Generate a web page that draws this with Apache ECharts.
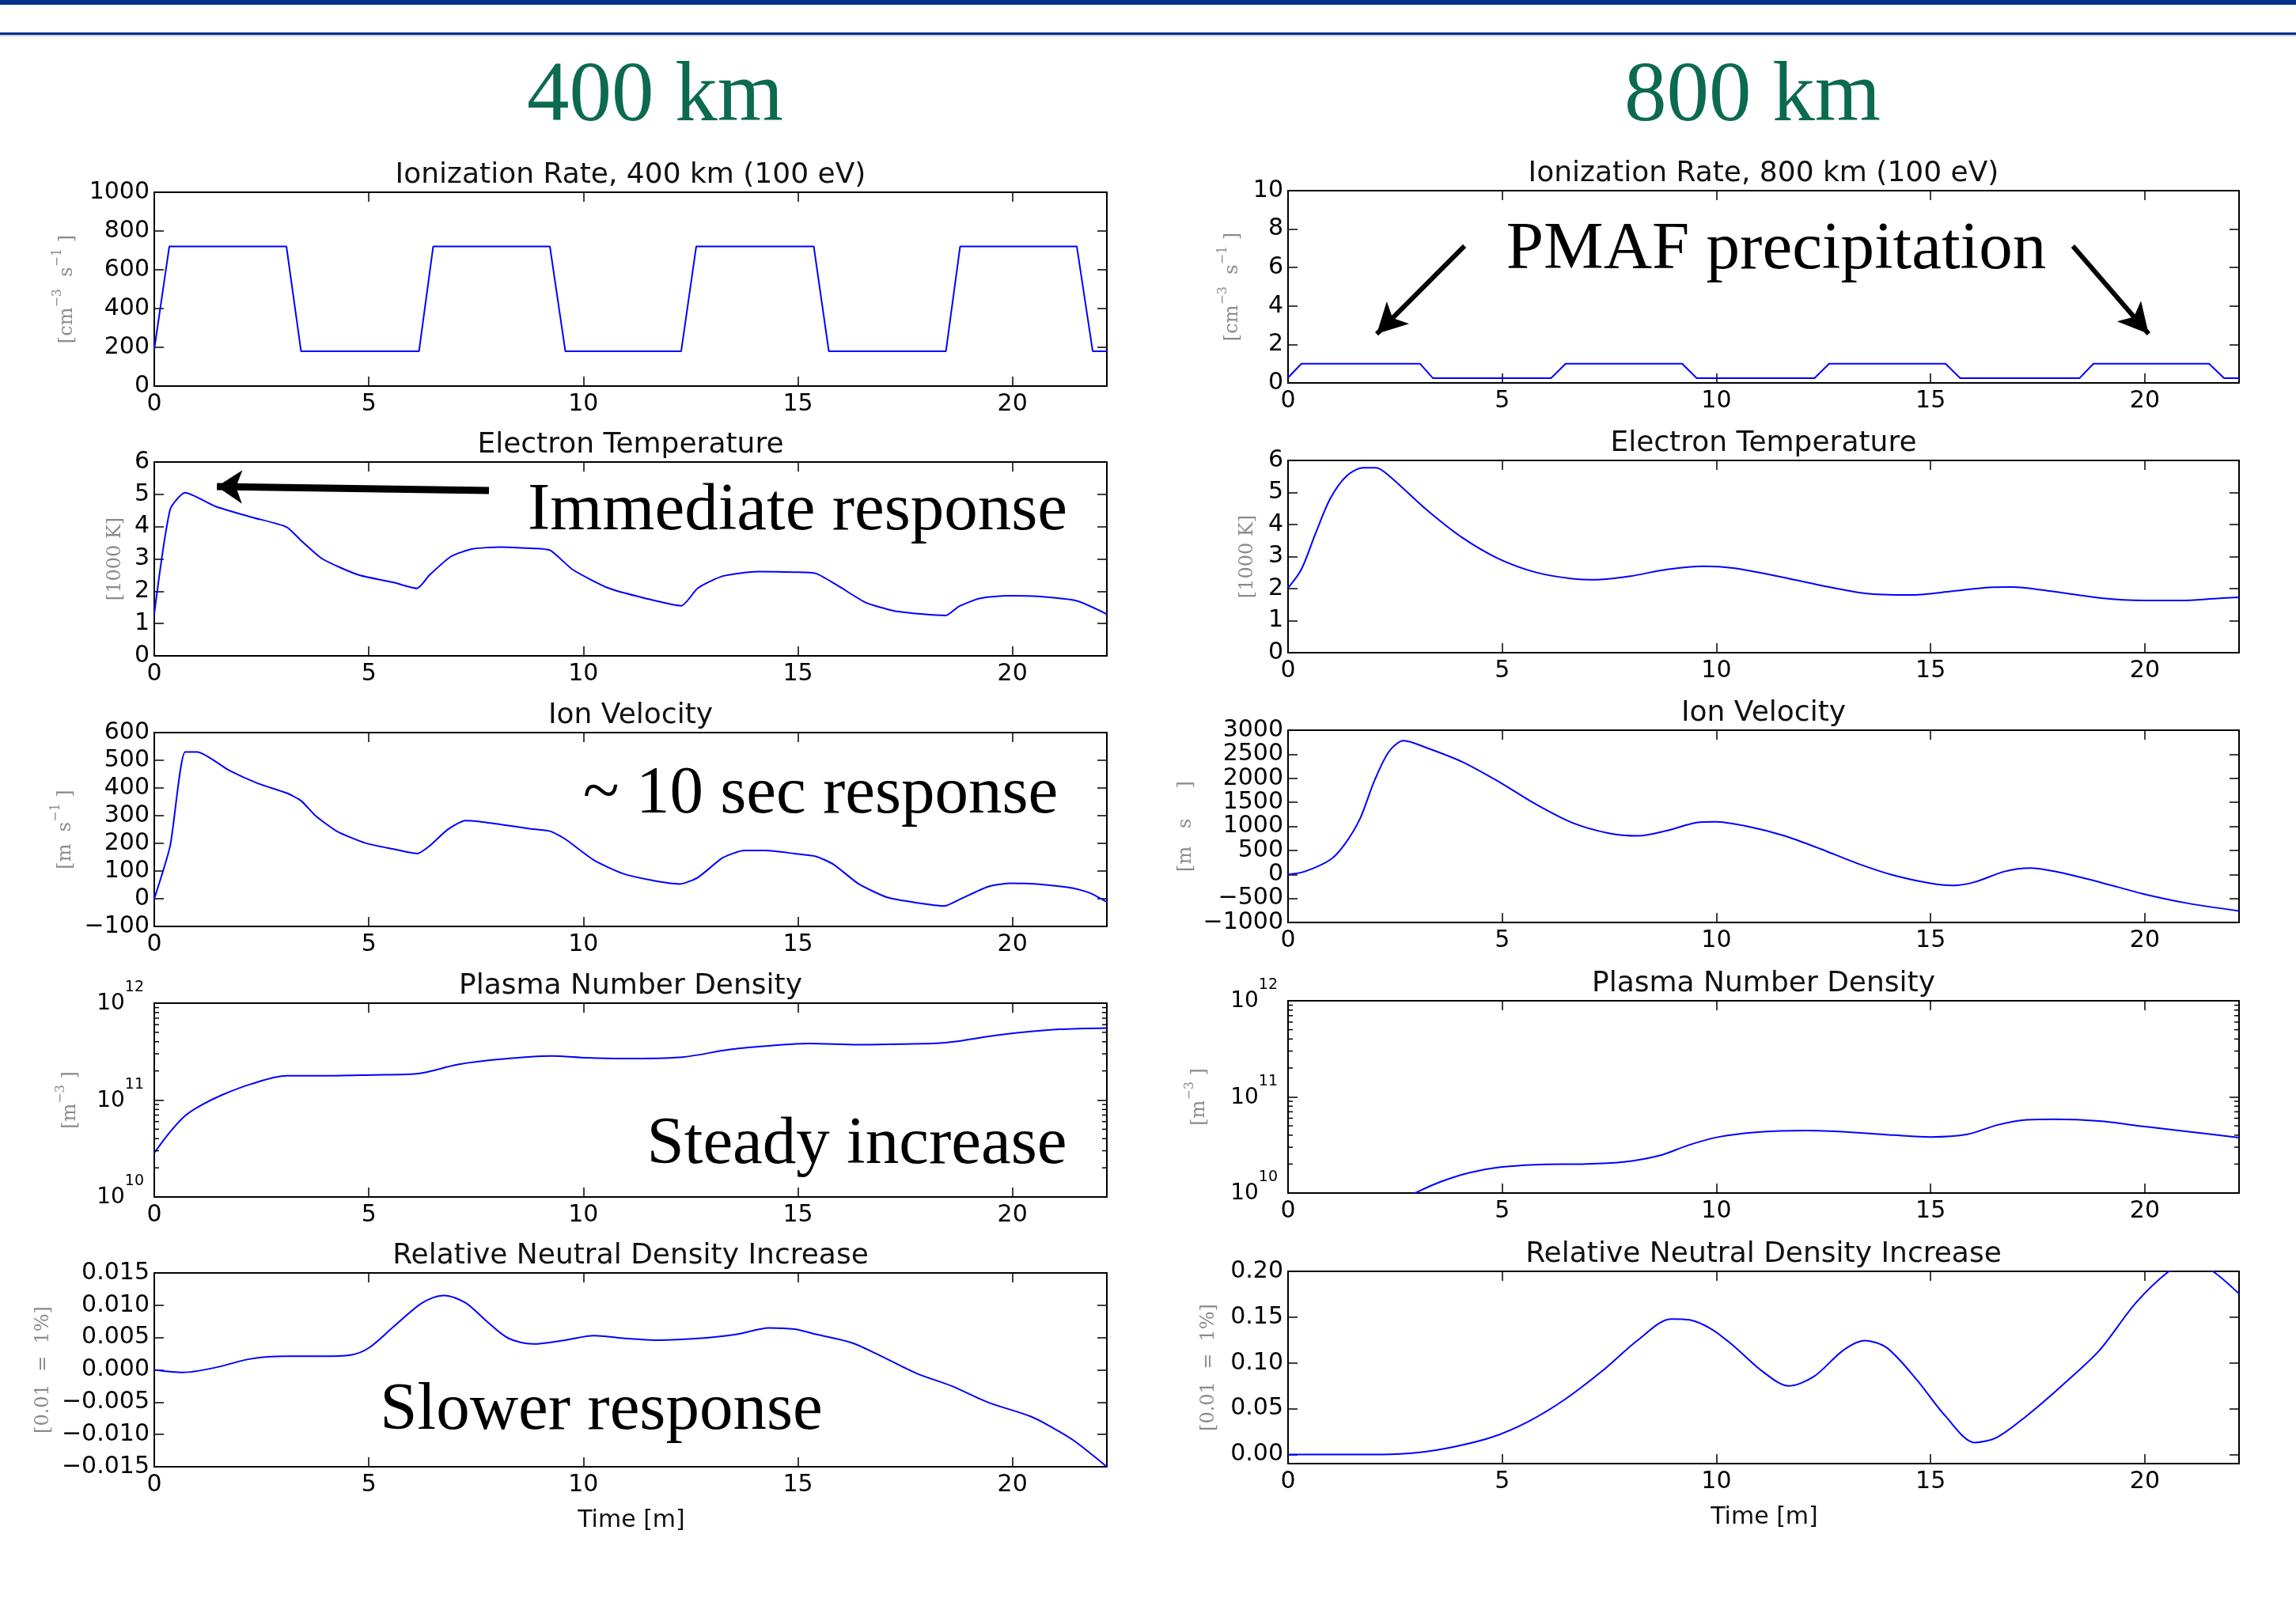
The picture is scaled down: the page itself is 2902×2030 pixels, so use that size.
<!DOCTYPE html>
<html><head><meta charset="utf-8">
<script src="https://cdn.jsdelivr.net/npm/echarts@6.0.0/dist/echarts.min.js"></script>
<style>html,body{margin:0;padding:0;background:#fff;}#chart{width:2902px;height:2030px;}</style>
</head><body><div id="chart"></div>
<script>
// ---------------- DATA (time in minutes) ----------------
const xTicks = [0, 5, 10, 15, 20];
const timeMax = 22.2;

const ion400 = [[0,190],[0.35,720],[3.08,720],[3.42,180],[6.17,180],[6.5,720],[9.22,720],[9.58,180],[12.28,180],[12.63,720],[15.37,720],[15.72,180],[18.45,180],[18.78,720],[21.5,720],[21.87,180],[22.2,180]];
const ion800 = [[0,0.27],[0.31,1.0],[3.08,1.0],[3.38,0.25],[6.14,0.25],[6.48,1.0],[9.2,1.0],[9.54,0.25],[12.29,0.25],[12.63,1.0],[15.35,1.0],[15.69,0.25],[18.48,0.25],[18.8,1.0],[21.5,1.0],[21.85,0.25],[22.2,0.25]];

const te400 = [[0,1.3],[0.37,4.53],[0.72,5.05],[1.42,4.63],[2.25,4.30],[3.08,3.99],[3.42,3.57],[3.92,3.0],[4.75,2.51],[5.58,2.27],[6.12,2.09],[6.42,2.51],[6.92,3.08],[7.42,3.31],[8.08,3.37],[8.75,3.33],[9.22,3.27],[9.75,2.67],[10.58,2.10],[11.42,1.79],[12.28,1.55],[12.67,2.10],[13.25,2.47],[14.08,2.61],[14.92,2.59],[15.42,2.55],[15.92,2.18],[16.58,1.65],[17.25,1.39],[17.92,1.29],[18.45,1.25],[18.75,1.53],[19.25,1.78],[19.92,1.86],[20.58,1.84],[21.5,1.70],[22.2,1.29]];
const te800 = [[0,2.02],[0.31,2.6],[0.65,3.75],[0.99,4.82],[1.37,5.52],[1.76,5.77],[2.05,5.77],[2.36,5.52],[3.21,4.49],[4.07,3.59],[4.92,2.93],[5.78,2.51],[6.63,2.31],[7.23,2.28],[8.0,2.39],[8.85,2.60],[9.71,2.70],[10.39,2.64],[11.42,2.39],[12.44,2.10],[13.47,1.85],[14.5,1.80],[15.52,1.92],[16.38,2.04],[16.89,2.05],[17.91,1.90],[18.94,1.71],[19.97,1.63],[20.82,1.63],[21.68,1.69],[22.2,1.73]];

const vi400 = [[0,0],[0.37,191],[0.72,530],[1.0,530],[1.75,463],[2.42,416],[3.08,382],[3.42,354],[3.75,301],[4.25,244],[4.92,201],[5.58,179],[6.13,163],[6.42,191],[6.83,249],[7.25,282],[7.5,280],[8.08,268],[8.75,253],[9.22,244],[9.58,215],[10.25,139],[10.92,91],[11.58,67],[12.25,53],[12.67,77],[13.25,148],[13.75,174],[14.25,174],[14.92,163],[15.42,153],[15.83,124],[16.42,53],[17.08,5],[17.75,-14],[18.42,-26],[18.75,-4],[19.42,43],[19.92,56],[20.58,53],[21.42,38],[21.83,19],[22.2,-12]];
const vi800 = [[0,0],[0.39,60],[0.99,308],[1.33,637],[1.68,1159],[2.02,1956],[2.36,2560],[2.70,2780],[3.21,2643],[4.07,2341],[4.92,1929],[5.78,1462],[6.63,1077],[7.49,857],[8.17,802],[8.85,912],[9.54,1077],[9.97,1093],[10.74,995],[11.59,802],[12.44,527],[13.3,225],[14.15,-22],[15.0,-187],[15.52,-231],[16.03,-159],[16.72,60],[17.32,132],[17.91,60],[18.94,-159],[19.97,-407],[20.99,-599],[22.2,-760]];

const ne400 = [[0,2.85e10],[0.37,4.7e10],[0.72,6.9e10],[1.08,8.8e10],[1.58,1.13e11],[2.25,1.46e11],[3.08,1.78e11],[3.92,1.78e11],[5.08,1.82e11],[6.12,1.87e11],[7.08,2.33e11],[8.08,2.64e11],[9.25,2.85e11],[10.08,2.73e11],[10.92,2.68e11],[12.25,2.76e11],[13.42,3.33e11],[14.42,3.66e11],[15.25,3.83e11],[16.42,3.73e11],[17.42,3.78e11],[18.42,3.9e11],[19.75,4.74e11],[21.08,5.37e11],[22.2,5.54e11]];
const ne800 = [[2.4,7.6e9],[2.96,1.0e10],[3.56,1.31e10],[4.24,1.63e10],[4.92,1.85e10],[5.78,1.97e10],[6.97,2.01e10],[7.83,2.10e10],[8.68,2.46e10],[9.37,3.17e10],[10.05,3.83e10],[10.91,4.29e10],[12.1,4.46e10],[13.13,4.29e10],[14.15,4.0e10],[15.0,3.83e10],[15.86,4.08e10],[16.55,5.09e10],[17.23,5.78e10],[17.91,5.85e10],[18.94,5.6e10],[19.97,4.93e10],[20.99,4.37e10],[22.2,3.76e10]];

const dn400 = [[0,0],[0.67,-0.0004],[1.42,0.00035],[2.25,0.0017],[3.08,0.0021],[3.92,0.0021],[4.58,0.0023],[5.0,0.0034],[5.58,0.0067],[6.25,0.0104],[6.75,0.0115],[7.25,0.0104],[7.75,0.0075],[8.25,0.0049],[8.83,0.0040],[9.58,0.0046],[10.25,0.0053],[10.92,0.0049],[11.75,0.0046],[12.75,0.0049],[13.58,0.0055],[14.33,0.0065],[14.92,0.0063],[15.42,0.0055],[16.25,0.0042],[16.92,0.0022],[17.75,-0.0005],[18.58,-0.0025],[19.42,-0.0050],[20.42,-0.0072],[20.92,-0.0089],[21.42,-0.0109],[22.2,-0.0150]];
const dn800 = [[0,0],[2.19,0],[3.04,0.002],[3.9,0.0086],[4.75,0.0187],[5.61,0.036],[6.46,0.060],[7.32,0.0906],[8.17,0.125],[8.94,0.148],[9.37,0.147],[9.88,0.137],[10.39,0.119],[11.08,0.0906],[11.68,0.0748],[12.27,0.0849],[12.96,0.1137],[13.47,0.1243],[13.98,0.1165],[14.67,0.082],[15.35,0.0417],[16.03,0.013],[16.55,0.0187],[17.23,0.0417],[18.09,0.0763],[18.94,0.1137],[19.79,0.1655],[20.56,0.20],[21.05,0.212],[21.59,0.20],[22.2,0.1755]];

// minor tick positions of the log axes
const logMinorTicks = [2e10,3e10,4e10,5e10,6e10,7e10,8e10,9e10,2e11,3e11,4e11,5e11,6e11,7e11,8e11,9e11];

// annotation arrows (data coordinates): [start, tip]
const arrowTemp400 = [[7.80,5.12],[1.46,5.24]];
const arrowIon800L = [[4.12,7.12],[2.07,2.55]];
const arrowIon800R = [[18.32,7.12],[20.09,2.55]];

// ---------------- LAYOUT ----------------
const COLL = {left:195, width:1204, height:245, tops:[243,584,926,1268,1609], cx:797};
const COLR = {left:1628, width:1202, height:243, tops:[241,582,923,1265,1607], cx:2229};
const BLUE = '#0000ff';
const UNIT_COLOR = '#8a8a8a';

function minusFmt(s){ return s.replace('-', '\u2212'); }
const fmtInt = v => minusFmt(String(Math.round(v)));
const fmt3 = v => Math.abs(v) < 1e-9 ? '0.000' : minusFmt(v.toFixed(3));
const fmt2 = v => Math.abs(v) < 1e-9 ? '0.00' : minusFmt(v.toFixed(2));
const fmtLog = v => '{b|10}{s|' + Math.round(Math.log10(v)) + '}';

const panels = [
  {col:COLL,row:0,title:'Ionization Rate, 400 km (100 eV)',data:ion400,yMin:0,yMax:1000,yInt:200,fmt:fmtInt,unit:'{n|[cm}{s|\u22123}{n|  s}{s|\u22121}{n| ]}',unitX:81,smooth:false},
  {col:COLR,row:0,title:'Ionization Rate, 800 km (100 eV)',data:ion800,yMin:0,yMax:10,yInt:2,fmt:fmtInt,unit:'{n|[cm}{s|\u22123}{n|  s}{s|\u22121}{n| ]}',unitX:1554,smooth:false,
    arrows:[arrowIon800L, arrowIon800R], arrowW:6, arrowSize:[30,38]},
  {col:COLL,row:1,title:'Electron Temperature',data:te400,yMin:0,yMax:6,yInt:1,fmt:fmtInt,unit:'{n|[1000 K]}',unitX:142,smooth:0.2,
    arrows:[arrowTemp400], arrowW:9, arrowSize:[32,32]},
  {col:COLR,row:1,title:'Electron Temperature',data:te800,yMin:0,yMax:6,yInt:1,fmt:fmtInt,unit:'{n|[1000 K]}',unitX:1573,smooth:0.3},
  {col:COLL,row:2,title:'Ion Velocity',data:vi400,yMin:-100,yMax:600,yInt:100,fmt:fmtInt,unit:'{n|[m  s}{s|\u22121}{n| ]}',unitX:79,smooth:0.2},
  {col:COLR,row:2,title:'Ion Velocity',data:vi800,yMin:-1000,yMax:3000,yInt:500,fmt:fmtInt,unit:'{n|[m   s     ]}',unitX:1495,smooth:0.3},
  {col:COLL,row:3,title:'Plasma Number Density',data:ne400,log:true,fmt:fmtLog,unit:'{n|[m}{s|\u22123}{n| ]}',unitX:85,smooth:0.3},
  {col:COLR,row:3,title:'Plasma Number Density',data:ne800,log:true,fmt:fmtLog,unit:'{n|[m}{s|\u22123}{n| ]}',unitX:1512,smooth:0.3},
  {col:COLL,row:4,title:'Relative Neutral Density Increase',data:dn400,yMin:-0.015,yMax:0.015,yInt:0.005,fmt:fmt3,unit:'{n|[0.01  =  1%]}',unitX:51,smooth:0.3,xName:true},
  {col:COLR,row:4,title:'Relative Neutral Density Increase',data:dn800,yMin:-0.01,yMax:0.20,yInt:null,fmt:fmt2,unit:'{n|[0.01  =  1%]}',unitX:1524,smooth:0.3,xName:true,hideMin:true}
];

const grids = [], xAxes = [], yAxes = [], series = [], graphics = [];

// header decoration
graphics.push({type:'rect', shape:{x:0,y:0,width:2902,height:6}, style:{fill:'#00308a'}, silent:true});
graphics.push({type:'rect', shape:{x:0,y:41,width:2902,height:3}, style:{fill:'#0a2f8a'}, silent:true});
graphics.push({type:'rect', shape:{x:0,y:44,width:2902,height:2}, style:{fill:'#c8d2e6'}, silent:true});
function txt(x, y, text, font, fill, extra){
  return Object.assign({type:'text', x:x, y:y, silent:true,
    style:{text:text, font:font, fill:fill, align:'center', verticalAlign:'middle', textAlign:'center', textVerticalAlign:'middle'}}, extra||{});
}
graphics.push(txt(828, 124, '400 km', '107px "Liberation Serif"', '#0b6a4f'));
graphics.push(txt(2215, 124, '800 km', '107px "Liberation Serif"', '#0b6a4f'));

// annotations
const ANN = '85px "Liberation Serif"';
graphics.push(txt(2245, 317, 'PMAF precipitation', ANN, '#000'));
graphics.push(txt(1008, 647, 'Immediate response', ANN, '#000'));
graphics.push(txt(1037, 1005, '~ 10 sec response', ANN, '#000'));
graphics.push(txt(1083, 1448, 'Steady increase', ANN, '#000'));
graphics.push(txt(760, 1784, 'Slower response', ANN, '#000'));

panels.forEach((p, i) => {
  const col = p.col, top = col.tops[p.row];
  grids.push({left:col.left, top:top, width:col.width, height:col.height, containLabel:false});
  const axLine = {show:true, onZero:false, lineStyle:{color:'#000', width:2}};
  const tick = {show:true, inside:true, length:12, lineStyle:{color:'#000', width:1.5}};
  const xBase = {type:'value', gridIndex:i, min:0, max:timeMax, interval:5, axisLine:axLine, axisTick:tick, splitLine:{show:false}};
  xAxes.push(Object.assign({}, xBase, {position:'bottom',
    axisLabel:{show:true, fontSize:30, fontFamily:'DejaVu Sans', color:'#000', margin:8, showMaxLabel:false,
      formatter: v => xTicks.indexOf(Math.round(v)) >= 0 && Math.abs(v - Math.round(v)) < 1e-6 ? String(Math.round(v)) : ''}}));
  xAxes.push(Object.assign({}, xBase, {position:'top', axisLabel:{show:false}}));

  let yBase;
  if (p.log) yBase = {type:'log', logBase:10, min:1e10, max:1e12, splitNumber:2};
  else {
    yBase = {type:'value', min:p.yMin, max:p.yMax};
    if (p.yInt) yBase.interval = p.yInt; else yBase.splitNumber = 5;
  }
  Object.assign(yBase, {gridIndex:i, axisLine:axLine, axisTick:tick, splitLine:{show:false}});
  const yLabel = {show:true, fontSize:30, fontFamily:'DejaVu Sans', color:'#000', margin:6, formatter:p.fmt};
  if (p.hideMin) yLabel.showMinLabel = false;
  if (p.log) {
    yLabel.margin = 13;
    yLabel.padding = [0,0,14,0];
    yLabel.rich = {
      b:{fontSize:28, fontFamily:'DejaVu Sans', color:'#000', lineHeight:44, verticalAlign:'bottom'},
      s:{fontSize:19, fontFamily:'DejaVu Sans', color:'#000', lineHeight:19, verticalAlign:'top'}
    };
  }
  yAxes.push(Object.assign({}, yBase, {position:'left', axisLabel:yLabel}));
  yAxes.push(Object.assign({}, yBase, {position:'right', axisLabel:{show:false}}));

  const s = {type:'line', xAxisIndex:2*i, yAxisIndex:2*i, data:p.data, symbol:'none', showSymbol:false,
    smooth:p.smooth, lineStyle:{color:BLUE, width:2}, clip:true, silent:true, animation:false, z:3};
  if (p.arrows) {
    s.markLine = {silent:true, animation:false, symbol:['none','arrow'], symbolSize:p.arrowSize,
      lineStyle:{color:'#000', width:p.arrowW, type:'solid'}, itemStyle:{color:'#000'},
      label:{show:false}, emphasis:{disabled:true},
      data: p.arrows.map(a => [{coord:a[0]}, {coord:a[1]}])};
  }
  series.push(s);

  if (p.log) {
    series.push({type:'custom', xAxisIndex:2*i, yAxisIndex:2*i, silent:true, clip:false, animation:false, z:4,
      data: logMinorTicks.map(v => [0, v]),
      renderItem: (params, api) => {
        const v = api.value(1);
        const a = api.coord([0, v]), b = api.coord([timeMax, v]);
        return {type:'group', children:[
          {type:'line', shape:{x1:a[0], y1:a[1], x2:a[0]+6, y2:a[1]}, style:{stroke:'#000', lineWidth:1.5}},
          {type:'line', shape:{x1:b[0], y1:b[1], x2:b[0]-6, y2:b[1]}, style:{stroke:'#000', lineWidth:1.5}}
        ]};
      }});
  }

  // title
  graphics.push(txt(col.cx, top - 21, p.title, '36px "DejaVu Sans"', '#111'));
  // unit label (rotated)
  graphics.push({type:'text', x:p.unitX, y:top + col.height/2, rotation:Math.PI/2, silent:true,
    style:{text:p.unit, align:'center', verticalAlign:'middle', textAlign:'center', textVerticalAlign:'middle',
      rich:{
        n:{fontSize:24, fontFamily:'DejaVu Serif', fill:UNIT_COLOR, lineHeight:32, verticalAlign:'bottom'},
        s:{fontSize:16, fontFamily:'DejaVu Serif', fill:UNIT_COLOR, lineHeight:16, verticalAlign:'top'}
      }}});
  if (p.xName) {
    graphics.push(txt(col.cx + 1, top + col.height + 68, 'Time [m]', '30px "DejaVu Sans"', '#111'));
  }
});

const chart = echarts.init(document.getElementById('chart'), null, {renderer:'canvas', width:2902, height:2030});
chart.setOption({
  animation:false,
  backgroundColor:'#ffffff',
  grid:grids, xAxis:xAxes, yAxis:yAxes, series:series, graphic:graphics
});
</script></body></html>
